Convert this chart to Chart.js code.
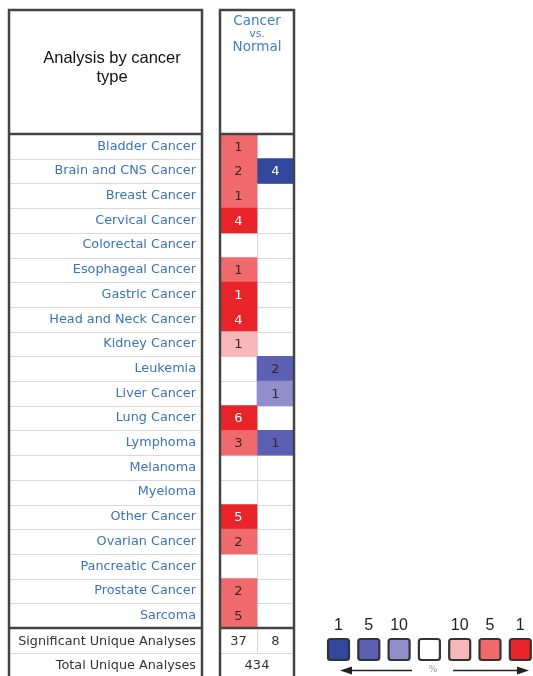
<!DOCTYPE html>
<html>
<head>
<meta charset="utf-8">
<script src="https://cdn.jsdelivr.net/npm/chart.js@4"></script>
<style>
  body { margin: 0; background: #fff; }
  #wrap { width: 533px; height: 676px; }
</style>
</head>
<body>
<div id="wrap"><canvas id="heat" width="533" height="676"></canvas></div>
<script>
// dados da tabela
const cancerTypes = ['Bladder Cancer', 'Brain and CNS Cancer', 'Breast Cancer', 'Cervical Cancer',
  'Colorectal Cancer', 'Esophageal Cancer', 'Gastric Cancer', 'Head and Neck Cancer', 'Kidney Cancer',
  'Leukemia', 'Liver Cancer', 'Lung Cancer', 'Lymphoma', 'Melanoma', 'Myeloma', 'Other Cancer',
  'Ovarian Cancer', 'Pancreatic Cancer', 'Prostate Cancer', 'Sarcoma']
const upCounts = [1, 2, 1, 4, null, 1, 1, 4, 1, null, null, 6, 3, null, null, 5, 2, null, 2, 5]
const upRank = [5, 5, 5, 1, null, 5, 1, 1, 10, null, null, 1, 5, null, null, 1, 5, null, 5, 5]
const downCounts = [null, 4, null, null, null, null, null, null, null, 2, 1, null, 1, null, null, null, null, null, null, null]
const downRank = [null, 1, null, null, null, null, null, null, null, 5, 10, null, 5, null, null, null, null, null, null, null]
const columnNames = ['Cancer', 'vs.', 'Normal']
const significant = [37, 8]
const totalAnalyses = 434
const legendTicks = ['1', '5', '10', '', '10', '5', '1']

const redShades = { 1: '#e8232a', 5: '#f06a6d', 10: '#f8b8bb' }
const blueShades = { 1: '#33489c', 5: '#5b60b2', 10: '#908ecb' }
const legendColors = ['#33489c', '#5b60b2', '#908ecb', '#ffffff', '#f8b8bb', '#f06a6d', '#e8232a']

const upData = upCounts.map(v => v == null ? null : [0, 1])
const downData = downCounts.map(v => v == null ? null : [1, 2])

const blue = '#3b74b6'
const dark = '#444'
const labelFont = '12.8px "DejaVu Sans"'

function roundBox(c, x, y, w, h, r) {
  c.beginPath()
  c.moveTo(x + r, y)
  c.arcTo(x + w, y, x + w, y + h, r)
  c.arcTo(x + w, y + h, x, y + h, r)
  c.arcTo(x, y + h, x, y, r)
  c.arcTo(x, y, x + w, y, r)
  c.closePath()
}

const tablePlugin = {
  id: 'tabela',
  beforeDatasetsDraw(chart) {
    const c = chart.ctx, x = chart.scales.x
    const area = chart.chartArea
    const step = (area.bottom - area.top) / cancerTypes.length
    c.save()
    c.strokeStyle = '#d9d9d9'
    c.lineWidth = 1
    for (let i = 1; i <= cancerTypes.length; i++) {
      const yy = Math.round(area.top + i * step) + 0.5
      c.beginPath(); c.moveTo(9, yy); c.lineTo(202, yy); c.stroke()
      c.beginPath(); c.moveTo(area.left, yy); c.lineTo(area.right, yy); c.stroke()
    }
    const rowB = Math.round(area.bottom + step) + 0.5
    c.beginPath(); c.moveTo(9, rowB); c.lineTo(202, rowB); c.stroke()
    c.beginPath(); c.moveTo(area.left, rowB); c.lineTo(area.right, rowB); c.stroke()
    const mid = Math.round(x.getPixelForValue(1)) + 0.5
    c.beginPath(); c.moveTo(mid, area.top); c.lineTo(mid, rowB); c.stroke()
    c.restore()
  },
  afterDatasetsDraw(chart) {
    const c = chart.ctx, x = chart.scales.x
    const area = chart.chartArea
    const step = (area.bottom - area.top) / cancerTypes.length
    c.save()
    // numeros nas celulas
    c.font = '13px "DejaVu Sans"'
    c.textAlign = 'center'
    c.textBaseline = 'middle'
    const sets = [[upCounts, upRank], [downCounts, downRank]]
    sets.forEach((s, di) => {
      const meta = chart.getDatasetMeta(di)
      meta.data.forEach((bar, i) => {
        if (s[0][i] == null) return
        c.fillStyle = s[1][i] === 1 ? '#fff' : '#3a2626'
        c.fillText(String(s[0][i]), (bar.x + bar.base) / 2, bar.y + 1)
      })
    })

    // bordas
    c.strokeStyle = dark
    c.lineWidth = 2.5
    c.strokeRect(9, 10, 193, 700)
    c.strokeRect(area.left, 10, area.right - area.left, 700)
    c.beginPath(); c.moveTo(9, area.top); c.lineTo(202, area.top); c.stroke()
    c.beginPath(); c.moveTo(area.left, area.top); c.lineTo(area.right, area.top); c.stroke()
    c.beginPath(); c.moveTo(9, area.bottom); c.lineTo(202, area.bottom); c.stroke()
    c.beginPath(); c.moveTo(area.left, area.bottom); c.lineTo(area.right, area.bottom); c.stroke()

    // cabecalho
    c.fillStyle = '#111'
    c.font = '16.5px "Liberation Sans"'
    c.fillText('Analysis by cancer', 112, 58)
    c.fillText('type', 112, 77)
    const cx = (area.left + area.right) / 2
    c.fillStyle = '#3f80c6'
    c.font = '13.5px "DejaVu Sans"'
    c.fillText(columnNames[0], cx, 21)
    c.font = '11px "DejaVu Sans"'
    c.fillText(columnNames[1], cx, 34.5)
    c.font = '13.5px "DejaVu Sans"'
    c.fillText(columnNames[2], cx, 47.5)

    // rodape
    c.font = labelFont
    c.fillStyle = '#333'
    const r1 = area.bottom + step / 2 + 1, r2 = area.bottom + step * 1.5 + 1
    c.textAlign = 'right'
    c.fillText('Significant Unique Analyses', 196, r1)
    c.fillText('Total Unique Analyses', 196, r2)
    c.textAlign = 'center'
    c.font = '13px "DejaVu Sans"'
    c.fillText(String(significant[0]), x.getPixelForValue(0.5), r1)
    c.fillText(String(significant[1]), x.getPixelForValue(1.5), r1)
    c.fillText(String(totalAnalyses), cx, r2)

    // legenda
    c.font = '16px "Liberation Sans"'
    legendColors.forEach((col, i) => {
      const lx = 328 + i * 30.3
      c.fillStyle = '#222'
      c.fillText(legendTicks[i], lx + 10.5, 626)
      roundBox(c, lx, 639, 21, 21, 2.5)
      c.fillStyle = col
      c.fill()
      c.strokeStyle = '#333'
      c.lineWidth = 2.2
      c.stroke()
    })
    c.strokeStyle = '#222'
    c.fillStyle = '#222'
    c.lineWidth = 1.5
    c.beginPath(); c.moveTo(350, 670.5); c.lineTo(412, 670.5); c.stroke()
    c.beginPath(); c.moveTo(340, 670.5); c.lineTo(352, 666.5); c.lineTo(352, 674.5); c.closePath(); c.fill()
    c.beginPath(); c.moveTo(453, 670.5); c.lineTo(518, 670.5); c.stroke()
    c.beginPath(); c.moveTo(529, 670.5); c.lineTo(517, 666.5); c.lineTo(517, 674.5); c.closePath(); c.fill()
    c.fillStyle = '#999'
    c.font = '9px "DejaVu Sans"'
    c.fillText('%', 433, 670)
    c.restore()
  }
}

new Chart(document.getElementById('heat'), {
  type: 'bar',
  data: {
    labels: cancerTypes,
    datasets: [{
      label: 'Up',
      data: upData,
      backgroundColor: upRank.map(r => r ? redShades[r] : 'transparent'),
      grouped: false,
      barPercentage: 1,
      categoryPercentage: 1,
      borderWidth: 0
    }, {
      label: 'Down',
      data: downData,
      backgroundColor: downRank.map(r => r ? blueShades[r] : 'transparent'),
      grouped: false,
      barPercentage: 1,
      categoryPercentage: 1,
      borderWidth: 0
    }]
  },
  options: {
    indexAxis: 'y',
    responsive: false,
    animation: false,
    layout: { padding: { left: 0, top: 134, right: 239, bottom: 48 } },
    plugins: { legend: { display: false }, tooltip: { enabled: false } },
    scales: {
      x: { display: false, min: 0, max: 2 },
      y: {
        grid: { display: false, drawTicks: false },
        border: { display: false },
        ticks: { autoSkip: false, padding: 24, color: blue, font: { family: 'DejaVu Sans', size: 12.8 } },
        afterFit(scale) { scale.width = 220 }
      }
    }
  },
  plugins: [tablePlugin]
})
</script>
</body>
</html>
